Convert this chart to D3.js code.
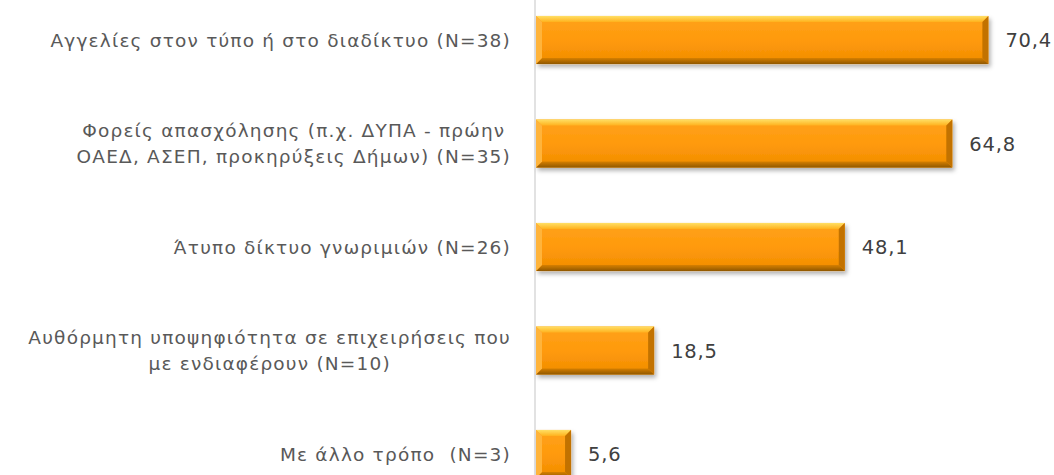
<!DOCTYPE html>
<html>
<head>
<meta charset="utf-8">
<script src="https://cdn.jsdelivr.net/npm/d3@7"></script>
<style>
  html, body { margin: 0; padding: 0; background: #fff; }
  svg { display: block; }
  .cat-label { font-family: "DejaVu Sans", sans-serif; font-size: 18.5px; letter-spacing: 1.2px; fill: #595959; white-space: pre; }
  .val-label { font-family: "DejaVu Sans", sans-serif; font-size: 19.5px; letter-spacing: 0.8px; fill: #404040; }
</style>
</head>
<body>
<div id="chart"></div>
<script>
const categories = ['c1', 'c2', 'c3', 'c4', 'c5'];
const labelLines = [
  ['Αγγελίες στον τύπο ή στο διαδίκτυο (N=38)'],
  ['Φορείς απασχόλησης (π.χ. ΔΥΠΑ - πρώην', 'ΟΑΕΔ, ΑΣΕΠ, προκηρύξεις Δήμων) (N=35)'],
  ['Άτυπο δίκτυο γνωριμιών (N=26)'],
  ['Αυθόρμητη υποψηφιότητα σε επιχειρήσεις που', 'με ενδιαφέρουν (N=10)'],
  ['Με άλλο τρόπο  (N=3)']
];
const values = [70.4, 64.8, 48.1, 18.5, 5.6];

const width = 1054, height = 475;
const axisX = 535;
const labelRight = 511;
const bevel = 6;

const svg = d3.select('#chart').append('svg')
  .attr('width', width)
  .attr('height', height);

const defs = svg.append('defs');

const grad = defs.append('linearGradient')
  .attr('id', 'barFill')
  .attr('x1', 0).attr('y1', 0).attr('x2', 0).attr('y2', 1);
grad.append('stop').attr('offset', '0%').attr('stop-color', '#ffa21a');
grad.append('stop').attr('offset', '50%').attr('stop-color', '#ff9a0c');
grad.append('stop').attr('offset', '100%').attr('stop-color', '#f08c00');

const topGrad = defs.append('linearGradient')
  .attr('id', 'bevelTop')
  .attr('x1', 0).attr('y1', 0).attr('x2', 0).attr('y2', 1);
topGrad.append('stop').attr('offset', '0%').attr('stop-color', '#ffe066');
topGrad.append('stop').attr('offset', '100%').attr('stop-color', '#ffb21e');

const botGrad = defs.append('linearGradient')
  .attr('id', 'bevelBottom')
  .attr('x1', 0).attr('y1', 0).attr('x2', 0).attr('y2', 1);
botGrad.append('stop').attr('offset', '0%').attr('stop-color', '#d57f00');
botGrad.append('stop').attr('offset', '100%').attr('stop-color', '#8f5700');

const shadow = defs.append('filter')
  .attr('id', 'shadow')
  .attr('x', '-10%').attr('y', '-20%')
  .attr('width', '130%').attr('height', '160%');
shadow.append('feDropShadow')
  .attr('dx', 2).attr('dy', 3)
  .attr('stdDeviation', 2.2)
  .attr('flood-color', '#000')
  .attr('flood-opacity', 0.3);

const x = d3.scaleLinear()
  .domain([0, 80])
  .range([axisX, axisX + 80 * 6.44]);

const y = d3.scaleBand()
  .domain(categories)
  .range([-12, 506])
  .paddingInner(0.535)
  .paddingOuter(0.27);

// axis line
svg.append('line')
  .attr('x1', axisX).attr('x2', axisX)
  .attr('y1', 0).attr('y2', height)
  .attr('stroke', '#d9d9d9')
  .attr('stroke-width', 1.5);

const bars = svg.append('g')
  .selectAll('g')
  .data(values)
  .join('g')
  .attr('filter', 'url(#shadow)');

bars.each(function(d, i) {
  const g = d3.select(this);
  const x0 = x(0) + 1, x1 = x(d);
  const y0 = y(categories[i]), y1 = y0 + y.bandwidth();
  const b = Math.min(bevel, (x1 - x0) / 2);

  g.append('rect')
    .attr('x', x0).attr('y', y0)
    .attr('width', x1 - x0).attr('height', y1 - y0)
    .attr('fill', 'url(#barFill)');

  // top bevel
  g.append('path')
    .attr('d', `M${x0},${y0}L${x1},${y0}L${x1 - b},${y0 + b}L${x0 + b},${y0 + b}Z`)
    .attr('fill', 'url(#bevelTop)');
  // bottom bevel
  g.append('path')
    .attr('d', `M${x0},${y1}L${x1},${y1}L${x1 - b},${y1 - b}L${x0 + b},${y1 - b}Z`)
    .attr('fill', 'url(#bevelBottom)');
  // left bevel
  g.append('path')
    .attr('d', `M${x0},${y0}L${x0 + b},${y0 + b}L${x0 + b},${y1 - b}L${x0},${y1}Z`)
    .attr('fill', '#ffb43a');
  // right bevel
  g.append('path')
    .attr('d', `M${x1},${y0}L${x1 - b},${y0 + b}L${x1 - b},${y1 - b}L${x1},${y1}Z`)
    .attr('fill', '#c27200');
});

// value labels
svg.append('g')
  .selectAll('text')
  .data(values)
  .join('text')
  .attr('class', 'val-label')
  .attr('x', d => x(d) + 17)
  .attr('y', (d, i) => y(categories[i]) + y.bandwidth() / 2)
  .attr('dy', '0.36em')
  .text(d => d3.format('.1f')(d).replace('.', ','));

// category labels
const lineH = 26;
const labels = svg.append('g')
  .selectAll('g')
  .data(labelLines)
  .join('g');

labels.each(function(lines, i) {
  const g = d3.select(this);
  const cy = y(categories[i]) + y.bandwidth() / 2;
  const texts = g.selectAll('text')
    .data(lines)
    .join('text')
    .attr('class', 'cat-label')
    .attr('text-anchor', 'middle')
    .attr('y', (l, j) => cy + (j - (lines.length - 1) / 2) * lineH)
    .attr('dy', '0.36em')
    .text(l => l);
  let maxW = 0;
  texts.each(function() { maxW = Math.max(maxW, this.getComputedTextLength()); });
  texts.attr('x', labelRight - maxW / 2);
});
</script>
</body>
</html>
